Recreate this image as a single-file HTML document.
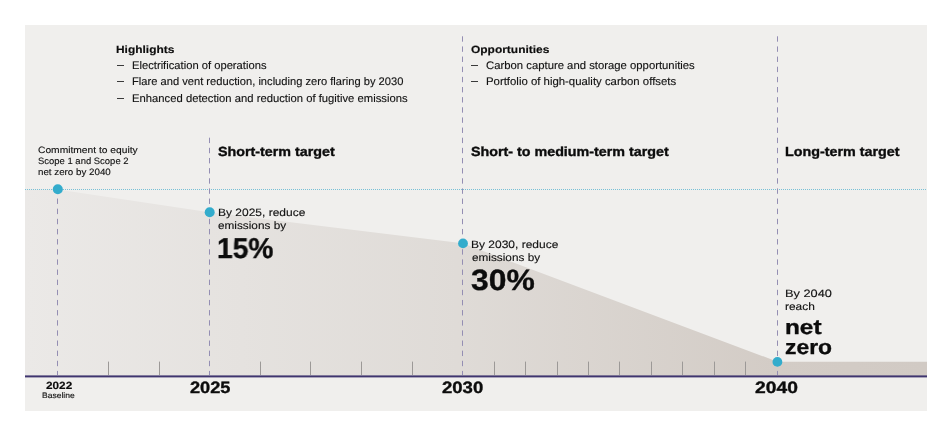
<!DOCTYPE html>
<html><head><meta charset="utf-8"><style>
html,body{margin:0;padding:0;background:#fff;}
body{width:952px;height:437px;position:relative;overflow:hidden;font-family:"Liberation Sans",sans-serif;text-rendering:geometricPrecision;}
.panel{position:absolute;left:25px;top:25px;width:902px;height:386px;background:#f0efed;}
svg{position:absolute;left:0;top:0;}
.t{position:absolute;white-space:nowrap;transform-origin:0 0;font-weight:400;will-change:transform;}
.b{font-weight:700;}
.dash{position:absolute;height:1px;background:#3a3a3a;}
</style></head><body>
<div class="panel"></div>
<svg width="952" height="437" viewBox="0 0 952 437">
<defs>
<linearGradient id="g" x1="25" y1="0" x2="927" y2="0" gradientUnits="userSpaceOnUse">
<stop offset="0" stop-color="#ebe9e7"/>
<stop offset="0.48" stop-color="#dfdbd7"/>
<stop offset="0.83" stop-color="#d3ccc6"/>
<stop offset="1" stop-color="#d1cac4"/>
</linearGradient>
</defs>
<path d="M25 189.5H57.5L209.5 212.2L462.5 243.3L777.5 361.7H927V376H25Z" fill="url(#g)"/>
<line x1="25" y1="189.5" x2="927" y2="189.5" stroke="#78c0d6" stroke-width="1" stroke-dasharray="1 1"/>
<path d="M57.5 198.54V203.94M57.5 208.68V214.08M57.5 218.82V224.22M57.5 228.96V234.36M57.5 239.10V244.50M57.5 249.24V254.64M57.5 259.38V264.78M57.5 269.52V274.92M57.5 279.66V285.06M57.5 289.80V295.20M57.5 299.94V305.34M57.5 310.08V315.48M57.5 320.22V325.62M57.5 330.36V335.76M57.5 340.50V345.90M57.5 350.64V356.04M57.5 360.78V366.18M57.5 370.92V375.00M209.5 137.70V143.10M209.5 147.84V153.24M209.5 157.98V163.38M209.5 168.12V173.52M209.5 178.26V183.66M209.5 188.40V193.80M209.5 198.54V203.94M209.5 208.68V214.08M209.5 218.82V224.22M209.5 228.96V234.36M209.5 239.10V244.50M209.5 249.24V254.64M209.5 259.38V264.78M209.5 269.52V274.92M209.5 279.66V285.06M209.5 289.80V295.20M209.5 299.94V305.34M209.5 310.08V315.48M209.5 320.22V325.62M209.5 330.36V335.76M209.5 340.50V345.90M209.5 350.64V356.04M209.5 360.78V366.18M209.5 370.92V375.00M462.5 36.30V41.70M462.5 46.44V51.84M462.5 56.58V61.98M462.5 66.72V72.12M462.5 76.86V82.26M462.5 87.00V92.40M462.5 97.14V102.54M462.5 107.28V112.68M462.5 117.42V122.82M462.5 127.56V132.96M462.5 137.70V143.10M462.5 147.84V153.24M462.5 157.98V163.38M462.5 168.12V173.52M462.5 178.26V183.66M462.5 188.40V193.80M462.5 198.54V203.94M462.5 208.68V214.08M462.5 218.82V224.22M462.5 228.96V234.36M462.5 239.10V244.50M462.5 249.24V254.64M462.5 259.38V264.78M462.5 269.52V274.92M462.5 279.66V285.06M462.5 289.80V295.20M462.5 299.94V305.34M462.5 310.08V315.48M462.5 320.22V325.62M462.5 330.36V335.76M462.5 340.50V345.90M462.5 350.64V356.04M462.5 360.78V366.18M462.5 370.92V375.00M777.5 36.30V41.70M777.5 46.44V51.84M777.5 56.58V61.98M777.5 66.72V72.12M777.5 76.86V82.26M777.5 87.00V92.40M777.5 97.14V102.54M777.5 107.28V112.68M777.5 117.42V122.82M777.5 127.56V132.96M777.5 137.70V143.10M777.5 147.84V153.24M777.5 157.98V163.38M777.5 168.12V173.52M777.5 178.26V183.66M777.5 188.40V193.80M777.5 198.54V203.94M777.5 208.68V214.08M777.5 218.82V224.22M777.5 228.96V234.36M777.5 239.10V244.50M777.5 249.24V254.64M777.5 259.38V264.78M777.5 269.52V274.92M777.5 279.66V285.06M777.5 289.80V295.20M777.5 299.94V305.34M777.5 310.08V315.48M777.5 320.22V325.62M777.5 330.36V335.76M777.5 340.50V345.90M777.5 350.64V356.04M777.5 360.78V366.18M777.5 370.92V375.00" stroke="#948eb3" stroke-width="1" fill="none"/>
<path d="M108.5 361.6V375M159.5 361.6V375M260.5 361.6V375M310.5 361.6V375M361.5 361.6V375M412.5 361.6V375M494.5 361.6V375M525.5 361.6V375M557.5 361.6V375M588.5 361.6V375M619.5 361.6V375M651.5 361.6V375M682.5 361.6V375M714.5 361.6V375M745.5 361.6V375" stroke="#9c9997" stroke-width="1" fill="none"/>
<rect x="25" y="375.4" width="902" height="2" fill="#3f356f"/>
<circle cx="57.8" cy="189.2" r="5" fill="#33accc"/>
<circle cx="209.7" cy="212.2" r="5" fill="#33accc"/>
<circle cx="463.0" cy="243.4" r="4.9" fill="#33accc"/>
<circle cx="777.4" cy="361.9" r="4.9" fill="#33accc"/>
</svg>
<div class="dash" style="left:117.2px;top:65px;width:6.6px"></div>
<div class="dash" style="left:117.2px;top:81px;width:6.6px"></div>
<div class="dash" style="left:117.2px;top:98px;width:6.6px"></div>
<div class="dash" style="left:471.4px;top:65px;width:7.1px"></div>
<div class="dash" style="left:471.4px;top:81px;width:7.1px"></div>
<div class="t b" style="left:116.38px;top:46.00px;font-size:10.47px;line-height:10.47px;transform:scaleX(1.140);color:#0c0c0c;-webkit-text-stroke:0.15px #0c0c0c">Highlights</div>
<div class="t" style="left:131.80px;top:61.00px;font-size:11.05px;line-height:11.05px;transform:scaleX(1.014);color:#121212;-webkit-text-stroke:0.13px #121212">Electrification of operations</div>
<div class="t" style="left:131.81px;top:77.00px;font-size:11.05px;line-height:11.05px;transform:scaleX(1.009);color:#121212;-webkit-text-stroke:0.13px #121212">Flare and vent reduction, including zero flaring by 2030</div>
<div class="t" style="left:131.80px;top:94.00px;font-size:11.05px;line-height:11.05px;transform:scaleX(1.020);color:#121212;-webkit-text-stroke:0.13px #121212">Enhanced detection and reduction of fugitive emissions</div>
<div class="t b" style="left:470.82px;top:46.00px;font-size:10.47px;line-height:10.47px;transform:scaleX(1.142);color:#0c0c0c;-webkit-text-stroke:0.15px #0c0c0c">Opportunities</div>
<div class="t" style="left:485.93px;top:61.00px;font-size:11.05px;line-height:11.05px;transform:scaleX(1.024);color:#121212;-webkit-text-stroke:0.13px #121212">Carbon capture and storage opportunities</div>
<div class="t" style="left:485.59px;top:77.00px;font-size:11.05px;line-height:11.05px;transform:scaleX(1.030);color:#121212;-webkit-text-stroke:0.13px #121212">Portfolio of high-quality carbon offsets</div>
<div class="t" style="left:38.09px;top:146.00px;font-size:9.16px;line-height:9.16px;transform:scaleX(1.119);color:#121212;-webkit-text-stroke:0.13px #121212">Commitment to equity</div>
<div class="t" style="left:38.22px;top:157.00px;font-size:9.16px;line-height:9.16px;transform:scaleX(1.034);color:#121212;-webkit-text-stroke:0.13px #121212">Scope 1 and Scope 2</div>
<div class="t" style="left:38.21px;top:168.00px;font-size:9.16px;line-height:9.16px;transform:scaleX(1.067);color:#121212;-webkit-text-stroke:0.13px #121212">net zero by 2040</div>
<div class="t b" style="left:218.21px;top:145.00px;font-size:13.23px;line-height:13.23px;transform:scaleX(1.081);color:#0c0c0c;-webkit-text-stroke:0.35px #0c0c0c">Short-term target</div>
<div class="t b" style="left:471.31px;top:145.00px;font-size:13.23px;line-height:13.23px;transform:scaleX(1.081);color:#0c0c0c;-webkit-text-stroke:0.35px #0c0c0c">Short- to medium-term target</div>
<div class="t b" style="left:785.14px;top:145.00px;font-size:13.23px;line-height:13.23px;transform:scaleX(1.083);color:#0c0c0c;-webkit-text-stroke:0.35px #0c0c0c">Long-term target</div>
<div class="t" style="left:217.64px;top:208.00px;font-size:10.61px;line-height:10.61px;transform:scaleX(1.130);color:#121212;-webkit-text-stroke:0.13px #121212">By 2025, reduce</div>
<div class="t" style="left:218.13px;top:221.00px;font-size:10.61px;line-height:10.61px;transform:scaleX(1.110);color:#121212;-webkit-text-stroke:0.13px #121212">emissions by</div>
<div class="t b" style="left:217.31px;top:235.00px;font-size:28.78px;line-height:28.78px;transform:scaleX(0.980);color:#0c0c0c;-webkit-text-stroke:0.35px #0c0c0c">15%</div>
<div class="t" style="left:471.04px;top:240.00px;font-size:10.61px;line-height:10.61px;transform:scaleX(1.130);color:#121212;-webkit-text-stroke:0.13px #121212">By 2030, reduce</div>
<div class="t" style="left:471.53px;top:253.00px;font-size:10.61px;line-height:10.61px;transform:scaleX(1.110);color:#121212;-webkit-text-stroke:0.13px #121212">emissions by</div>
<div class="t b" style="left:471.36px;top:266.00px;font-size:29.36px;line-height:29.36px;transform:scaleX(1.085);color:#0c0c0c;-webkit-text-stroke:0.35px #0c0c0c">30%</div>
<div class="t" style="left:784.98px;top:289.00px;font-size:10.61px;line-height:10.61px;transform:scaleX(1.204);color:#121212;-webkit-text-stroke:0.13px #121212">By 2040</div>
<div class="t" style="left:785.49px;top:302.00px;font-size:10.61px;line-height:10.61px;transform:scaleX(1.122);color:#121212;-webkit-text-stroke:0.13px #121212">reach</div>
<div class="t b" style="left:784.54px;top:318.00px;font-size:20.64px;line-height:20.64px;transform:scaleX(1.180);color:#0c0c0c;-webkit-text-stroke:0.35px #0c0c0c">net</div>
<div class="t b" style="left:785.09px;top:338.00px;font-size:20.64px;line-height:20.64px;transform:scaleX(1.108);color:#0c0c0c;-webkit-text-stroke:0.35px #0c0c0c">zero</div>
<div class="t b" style="left:45.55px;top:382.00px;font-size:10.47px;line-height:10.47px;transform:scaleX(1.124);color:#0c0c0c;-webkit-text-stroke:0.15px #0c0c0c">2022</div>
<div class="t" style="left:42.32px;top:392.00px;font-size:7.85px;line-height:7.85px;transform:scaleX(1.089);color:#121212;-webkit-text-stroke:0.13px #121212">Baseline</div>
<div class="t b" style="left:189.55px;top:380.00px;font-size:16.42px;line-height:16.42px;transform:scaleX(1.107);color:#0c0c0c;-webkit-text-stroke:0.35px #0c0c0c">2025</div>
<div class="t b" style="left:442.04px;top:380.00px;font-size:16.42px;line-height:16.42px;transform:scaleX(1.129);color:#0c0c0c;-webkit-text-stroke:0.35px #0c0c0c">2030</div>
<div class="t b" style="left:755.42px;top:380.00px;font-size:16.42px;line-height:16.42px;transform:scaleX(1.174);color:#0c0c0c;-webkit-text-stroke:0.35px #0c0c0c">2040</div>

</body></html>
